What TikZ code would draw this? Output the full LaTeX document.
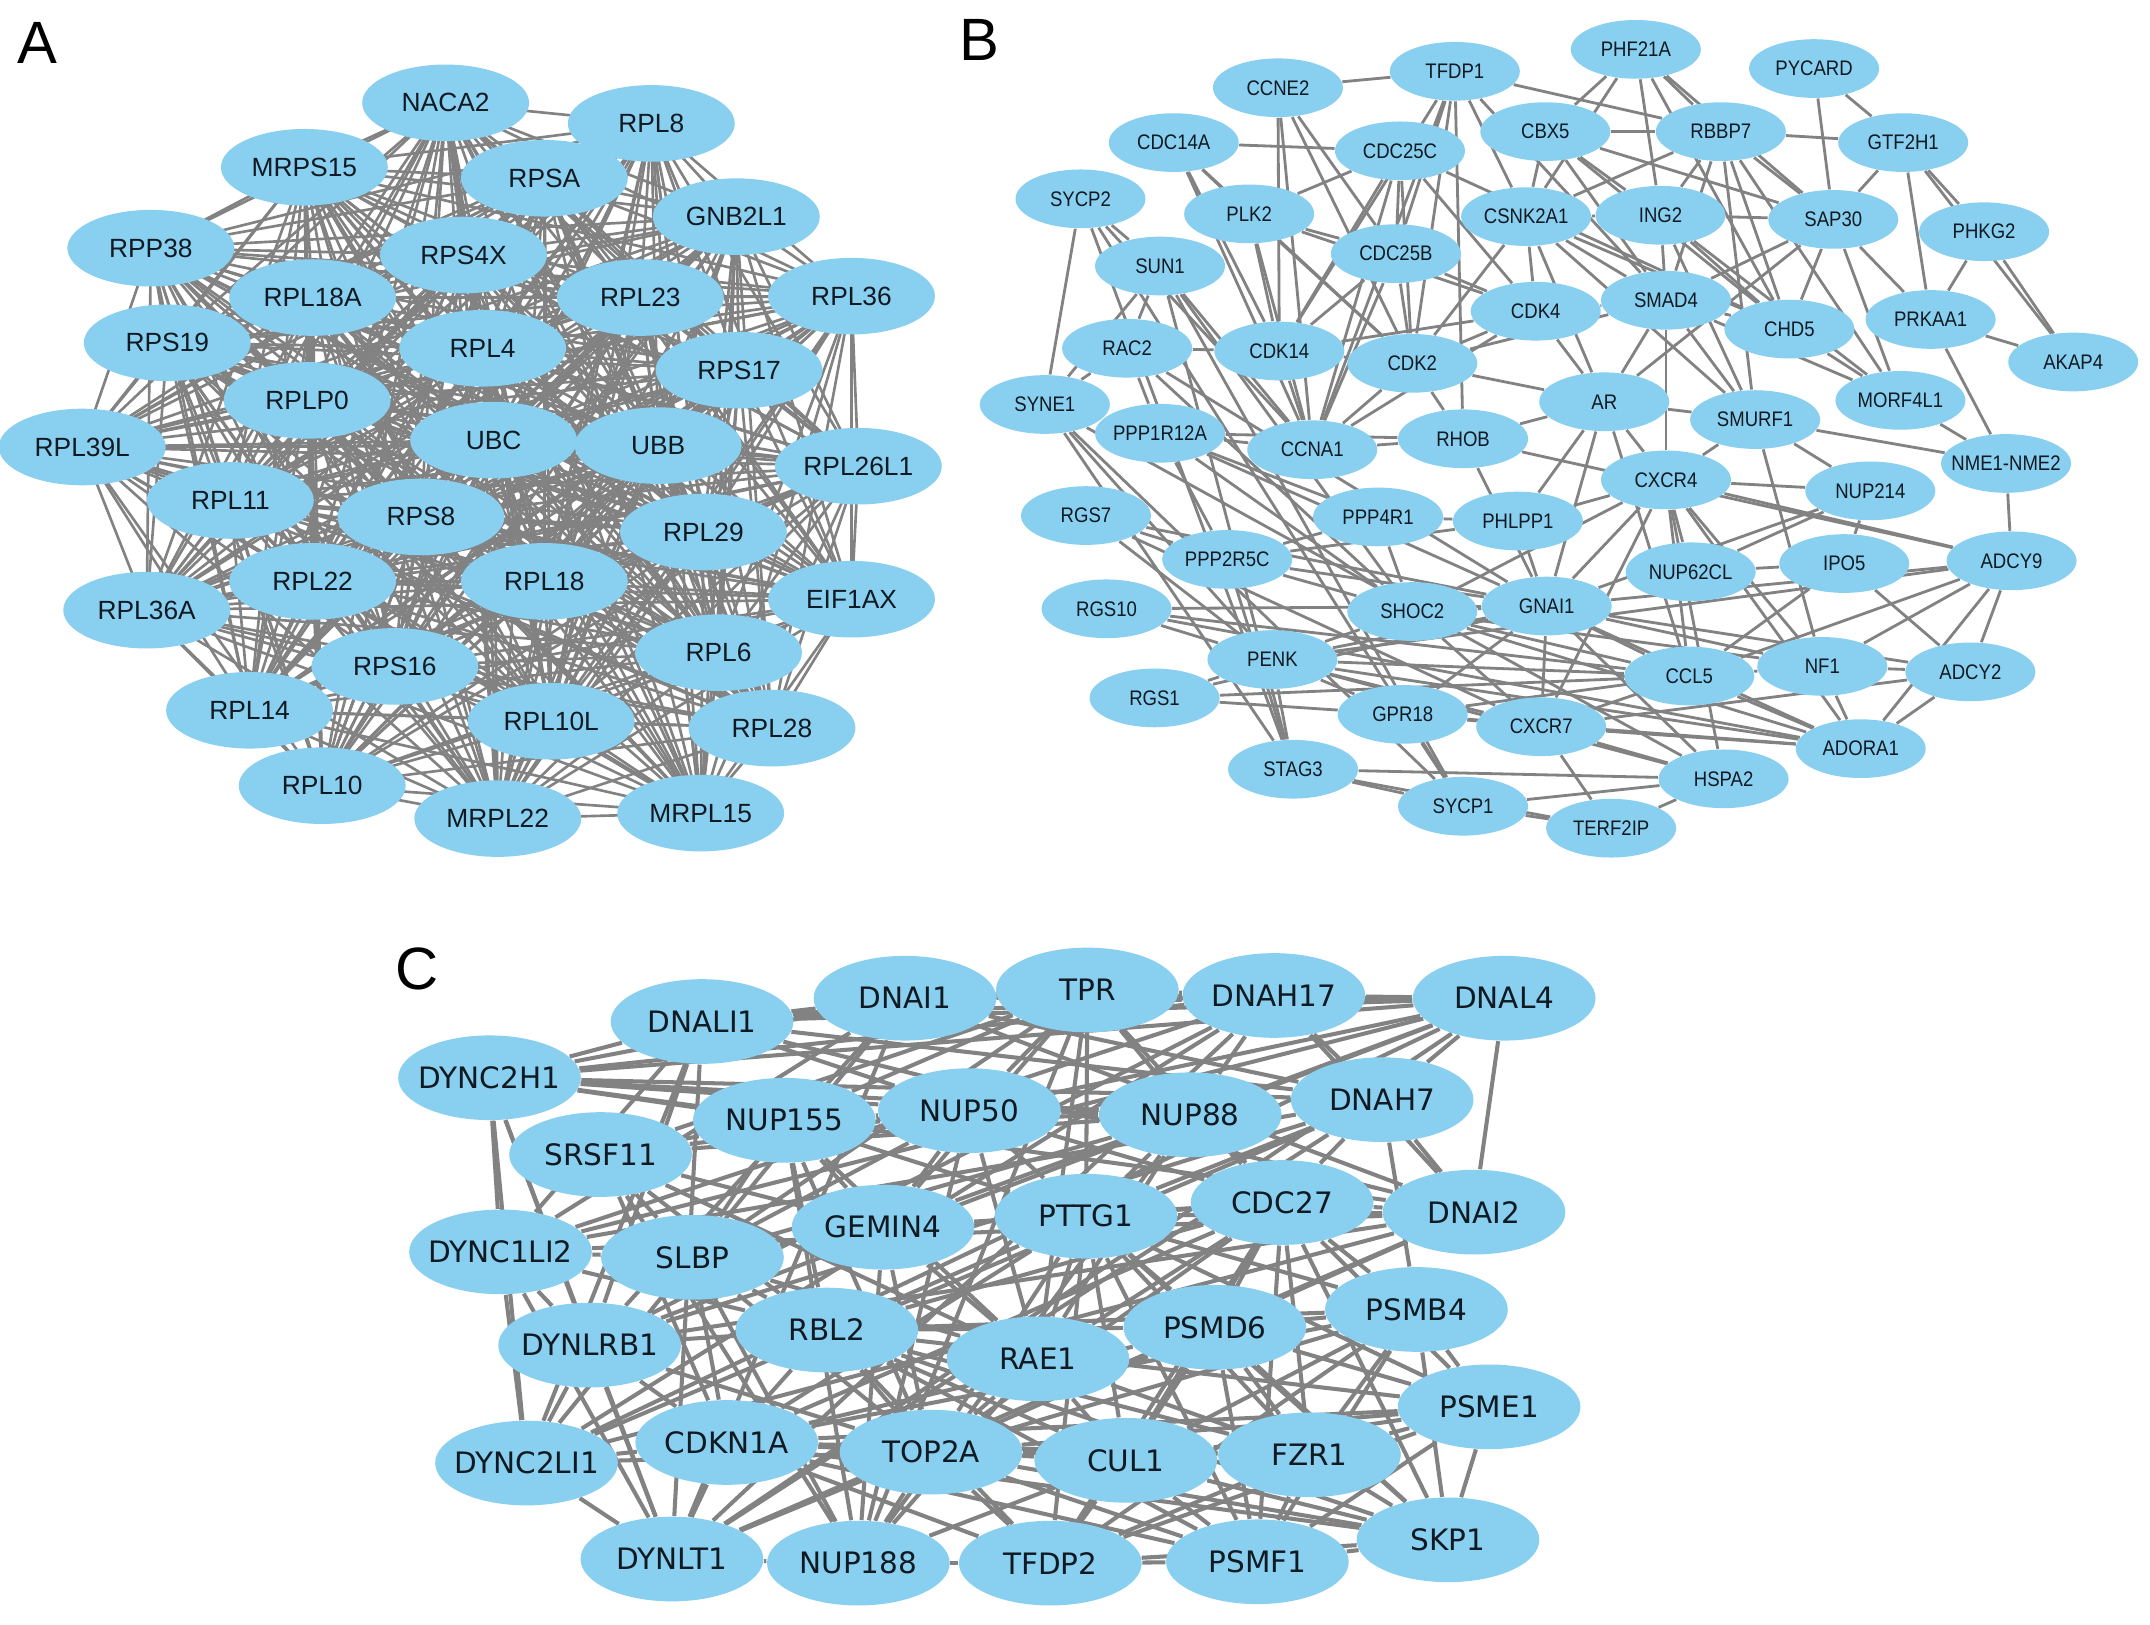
\documentclass[tikz,border=0pt]{standalone}
\usepackage{fontspec}
\setmainfont{Liberation Sans}
\newfontfamily\bfontB[FakeStretch=0.88]{Liberation Sans}
\newfontfamily\cfont{DejaVu Sans}
\usetikzlibrary{shapes.geometric}
\definecolor{nodeblue}{RGB}{137,207,240}
\definecolor{edgegray}{RGB}{130,130,130}
\definecolor{txt}{RGB}{16,26,34}
\pgfdeclarelayer{bg}
\pgfdeclarelayer{paper}
\pgfsetlayers{paper,bg,main}
\tikzset{
  nA/.style={ellipse, fill=nodeblue, minimum width=47.5pt, minimum height=21.8pt, inner sep=0pt,
    label={[font=\fontsize{7.5}{8}\selectfont, text=txt, inner sep=0pt]center:#1}},
  nB/.style={ellipse, fill=nodeblue, minimum width=37pt, minimum height=16.7pt, inner sep=0pt,
    label={[font=\bfontB\fontsize{6}{7}\selectfont, text=txt, inner sep=0pt]center:#1}},
  nC/.style={ellipse, fill=nodeblue, minimum width=52pt, minimum height=24.1pt, inner sep=0pt,
    label={[font=\cfont\fontsize{8.4}{9}\selectfont, text=txt, inner sep=0pt]center:#1}},
  eA/.style={draw=edgegray, line width=0.75pt},
  eB/.style={draw=edgegray, line width=0.8pt},
  eC/.style={draw=edgegray, line width=1.15pt},
  panel/.style={font=\fontsize{17}{18}\selectfont, inner sep=0pt}
}
\begin{document}
\begin{tikzpicture}[x=0.013712cm, y=-0.013712cm]
\begin{pgfonlayer}{paper}
\fill[white] (0,0) rectangle (1568,1185);
\end{pgfonlayer}
\useasboundingbox (0,0) rectangle (1568,1185);

% panel labels
\node[panel] (labA) at (27,31) {A};
\node[panel] (labB) at (714,29) {B};
\node[panel] (labC) at (304,707) {C};

% ---------------- Panel A ----------------
\foreach \n/\x/\y in {NACA2/325/75, RPL8/475/90, MRPS15/222/122, RPSA/397/130, GNB2L1/537/158,
  RPP38/110/181, RPS4X/338/186, RPL18A/228/217, RPL23/467/217, RPL36/621/216, RPS19/122/250,
  RPL4/352/254, RPS17/539/270, RPLP0/224/292, RPL39L/60/326, UBC/360/321, UBB/480/325,
  RPL26L1/626/340, RPL11/168/365, RPS8/307/377, RPL29/513/388, RPL36A/107/445, RPL22/228/424,
  RPL18/397/424, EIF1AX/621/437, RPS16/288/486, RPL6/524/476, RPL14/182/518, RPL10L/402/526,
  RPL28/563/531, RPL10/235/573, MRPL22/363/597, MRPL15/511/593}
  {\node[nA=\n] (a\n) at (\x,\y) {};}

\def\Alist{NACA2,RPL8,MRPS15,RPSA,GNB2L1,RPP38,RPS4X,RPL18A,RPL23,RPL36,RPS19,RPL4,RPS17,RPLP0,RPL39L,UBC,UBB,RPL26L1,RPL11,RPS8,RPL29,RPL36A,RPL22,RPL18,EIF1AX,RPS16,RPL6,RPL14,RPL10L,RPL28,RPL10,MRPL22,MRPL15}
\begin{pgfonlayer}{bg}
\foreach \u [count=\i] in \Alist {
  \foreach \v [count=\j] in \Alist {
    \ifnum\j>\i \draw[eA] (a\u.center) -- (a\v.center);\fi
  }
}
\end{pgfonlayer}

% ---------------- Panel B ----------------
\foreach \n/\x/\y in {TFDP1/1061/52, PHF21A/1193/36, PYCARD/1323/50, CCNE2/932/64, CBX5/1127/96,
  RBBP7/1255/96, GTF2H1/1388/104, CDC14A/856/104, CDC25C/1021/110, SYCP2/788/145, PLK2/911/156,
  CSNK2A1/1113/158, ING2/1211/157, SAP30/1337/160, PHKG2/1447/169, SUN1/846/194, CDC25B/1018/185,
  CDK4/1120/227, SMAD4/1215/219, CHD5/1305/240, PRKAA1/1408/233, AKAP4/1512/264, RAC2/822/254,
  CDK14/933/256, CDK2/1030/265, SYNE1/762/295, AR/1170/293, SMURF1/1280/306, MORF4L1/1386/292,
  PPP1R12A/846/316, CCNA1/957/328, RHOB/1067/320, NME1-NME2/1463/338, CXCR4/1215/350,
  NUP214/1364/358, RGS7/792/376, PPP4R1/1005/377, PHLPP1/1107/380, PPP2R5C/895/408,
  NUP62CL/1233/417, IPO5/1345/411, ADCY9/1467/409, RGS10/807/444, SHOC2/1030/446, GNAI1/1128/442,
  PENK/928/481, CCL5/1232/493, NF1/1329/486, ADCY2/1437/490, RGS1/842/509, GPR18/1023/521,
  CXCR7/1124/530, ADORA1/1357/546, STAG3/943/561, HSPA2/1257/568, SYCP1/1067/588, TERF2IP/1175/604}
  {\node[nB=\n] (b\n) at (\x,\y) {};}

\begin{pgfonlayer}{bg}
\foreach \u/\v in {CCNE2/TFDP1, CDC14A/CDC25C, CCNE2/CDK14, CCNE2/CDK2, CCNE2/CDC25B, CCNE2/CCNA1,
  TFDP1/CDK14, TFDP1/CCNA1, TFDP1/CDK2, TFDP1/CSNK2A1, TFDP1/RBBP7, TFDP1/SMAD4, TFDP1/CDC25B, TFDP1/RHOB,
  SYCP2/SYNE1, SYCP2/SUN1, SYCP2/STAG3, SYCP2/SYCP1, SYCP2/CCNA1,
  SUN1/RAC2, SUN1/CCNA1, SUN1/SHOC2, SUN1/SYCP1, SUN1/STAG3, SUN1/SYNE1,
  RAC2/SYNE1, RAC2/CDK14, RAC2/PPP1R12A, RAC2/SHOC2, RAC2/GNAI1,
  PLK2/CDK14, PLK2/CDK2, PLK2/CCNA1, PLK2/CDC25C, PLK2/CDC25B, PLK2/CDK4,
  CDC14A/CDK14, CDC14A/PLK2, CDC14A/CDK2, CDC14A/CCNA1,
  CDC25C/CDK2, CDC25C/CDK14, CDC25C/CCNA1, CDC25C/CDC25B, CDC25C/CHD5, CDC25C/CDK4,
  CDC25B/CDK2, CDC25B/CDK14, CDC25B/CCNA1, CDC25B/CDK4,
  CDK14/CDK2, CDK14/CDK4, CDK14/CCNA1,
  CDK2/CDK4, CDK2/CCNA1, CDK2/AR, CDK2/RHOB, CDK2/SMAD4, CDK2/CSNK2A1,
  CDK4/CSNK2A1, CDK4/SMAD4, CDK4/AR, CDK4/CCNA1,
  CSNK2A1/AR, CSNK2A1/SMAD4, CSNK2A1/CBX5, CSNK2A1/RBBP7, CSNK2A1/CHD5, CSNK2A1/PHF21A, CSNK2A1/SMURF1,
  CBX5/RBBP7, CBX5/PHF21A, CBX5/ING2, CBX5/SAP30, CBX5/CHD5, CBX5/SMAD4,
  PHF21A/RBBP7, PHF21A/ING2, PHF21A/SAP30, PHF21A/CHD5,
  RBBP7/GTF2H1, RBBP7/ING2, RBBP7/SAP30, RBBP7/CHD5, RBBP7/MORF4L1, RBBP7/SMAD4, RBBP7/SMURF1,
  PYCARD/GTF2H1, PYCARD/SAP30,
  GTF2H1/PHKG2, GTF2H1/PRKAA1, GTF2H1/AKAP4, GTF2H1/SAP30,
  PHKG2/PRKAA1, PHKG2/AKAP4,
  PRKAA1/AKAP4, PRKAA1/NME1-NME2, PRKAA1/SAP30,
  ING2/SAP30, ING2/SMAD4, ING2/CHD5, ING2/MORF4L1, ING2/SMURF1, ING2/CSNK2A1,
  SAP30/CHD5, SAP30/MORF4L1, SAP30/SMAD4, SAP30/AR,
  SMAD4/AR, SMAD4/SMURF1, SMAD4/CHD5, SMAD4/CXCR4, SMAD4/MORF4L1,
  CHD5/MORF4L1,
  AR/SMURF1, AR/CXCR4, AR/RHOB, AR/PHLPP1, AR/GNAI1, AR/CCL5,
  SMURF1/NME1-NME2, SMURF1/NUP214, SMURF1/NF1, SMURF1/CXCR4,
  MORF4L1/NME1-NME2, NME1-NME2/ADCY9,
  CXCR4/NUP62CL, CXCR4/GNAI1, CXCR4/CCL5, CXCR4/ADCY9, CXCR4/NF1, CXCR4/ADORA1, CXCR4/CXCR7,
  CXCR4/PHLPP1, CXCR4/NUP214, CXCR4/SHOC2, CXCR4/HSPA2,
  NUP214/IPO5, NUP214/NUP62CL, NUP214/GNAI1,
  IPO5/NUP62CL, IPO5/ADCY2, IPO5/CCL5,
  ADCY9/ADCY2, ADCY9/ADORA1, ADCY9/GNAI1, ADCY9/CCL5, ADCY9/NF1, ADCY9/PENK,
  ADCY2/NF1, ADCY2/ADORA1, ADCY2/GNAI1, ADCY2/CXCR7,
  NF1/ADORA1, NF1/CCL5, NF1/GNAI1, NF1/SHOC2,
  ADORA1/GNAI1, ADORA1/CCL5, ADORA1/PENK, ADORA1/CXCR7, ADORA1/SHOC2, ADORA1/RGS10, ADORA1/GPR18,
  CCL5/GNAI1, CCL5/CXCR7, CCL5/PENK, CCL5/SHOC2, CCL5/GPR18, CCL5/RGS1,
  HSPA2/SYCP1, HSPA2/TERF2IP, HSPA2/CXCR7, HSPA2/GNAI1, HSPA2/STAG3, HSPA2/PENK,
  GPR18/CXCR7, GPR18/GNAI1, GPR18/SYCP1, GPR18/PENK, GPR18/RGS1,
  CXCR7/GNAI1, CXCR7/TERF2IP, CXCR7/PENK, CXCR7/SHOC2,
  SYCP1/STAG3, SYCP1/TERF2IP,
  STAG3/PENK, STAG3/TERF2IP, STAG3/PPP2R5C,
  RGS1/PENK, RGS1/GNAI1,
  RGS10/GNAI1, RGS10/PENK, RGS10/CCL5,
  RGS7/GNAI1, RGS7/PENK, RGS7/PPP2R5C, RGS7/CXCR7,
  PENK/GNAI1, PENK/SHOC2,
  SHOC2/GNAI1, SHOC2/PPP1R12A, SHOC2/PPP2R5C,
  PPP2R5C/PPP4R1, PPP2R5C/PPP1R12A, PPP2R5C/PHLPP1, PPP2R5C/GNAI1,
  PPP4R1/PHLPP1, PPP4R1/PPP1R12A, PPP4R1/SHOC2,
  PHLPP1/GNAI1,
  RHOB/GNAI1, RHOB/CCNA1, RHOB/ADCY9,
  SYNE1/SYCP1, SYNE1/STAG3, SYNE1/PENK, SYNE1/HSPA2,
  PPP1R12A/CCNA1, PPP1R12A/GNAI1, PPP1R12A/RHOB}
  {\draw[eB] (b\u) -- (b\v);}
\end{pgfonlayer}

% ---------------- Panel C ----------------
\foreach \n/\x/\y in {DNAI1/660/728, TPR/793/722, DNAH17/929/726, DNAL4/1097/728, DNALI1/512/745,
  DYNC2H1/357/786, NUP155/572/817, NUP50/707/810, NUP88/868/813, DNAH7/1008/802, SRSF11/438/842,
  CDC27/935/877, PTTG1/792/887, GEMIN4/644/895, DNAI2/1075/884, DYNC1LI2/365/913, SLBP/505/917,
  PSMB4/1033/955, RBL2/603/970, PSMD6/886/968, RAE1/757/991, DYNLRB1/430/981, PSME1/1086/1026,
  CDKN1A/530/1052, TOP2A/679/1059, CUL1/821/1065, FZR1/955/1061, DYNC2LI1/384/1067, SKP1/1056/1123,
  DYNLT1/490/1137, NUP188/626/1140, TFDP2/766/1140, PSMF1/917/1139}
  {\node[nC=\n] (c\n) at (\x,\y) {};}

\def\Dyn{DYNC2H1,DNALI1,DNAI1,DNAH17,DNAL4,DNAH7,DNAI2,DYNC1LI2,DYNLRB1,DYNC2LI1,DYNLT1}
\def\Nup{NUP155,NUP50,NUP88,NUP188,TPR,RAE1}
\def\Cyc{CDC27,PTTG1,CUL1,FZR1,SKP1,CDKN1A,TOP2A,RBL2,TFDP2,PSMD6,PSMB4,PSME1,PSMF1}
\begin{pgfonlayer}{bg}
\foreach \u [count=\i] in \Dyn {\foreach \v [count=\j] in \Dyn {\ifnum\j>\i \draw[eC] (c\u) -- (c\v);\fi}}
\foreach \u [count=\i] in \Nup {\foreach \v [count=\j] in \Nup {\ifnum\j>\i \draw[eC] (c\u) -- (c\v);\fi}}
\foreach \u [count=\i] in \Cyc {\foreach \v [count=\j] in \Cyc {\ifnum\j>\i \draw[eC] (c\u) -- (c\v);\fi}}
\foreach \u/\v in {SRSF11/NUP155, SRSF11/NUP50, SRSF11/NUP88, SRSF11/TPR, SRSF11/RAE1, SRSF11/NUP188,
  SLBP/NUP155, SLBP/NUP50, SLBP/NUP88, SLBP/TPR, SLBP/RAE1, SLBP/NUP188,
  GEMIN4/NUP155, GEMIN4/NUP50, GEMIN4/NUP88, GEMIN4/TPR, GEMIN4/RAE1, GEMIN4/NUP188,
  SRSF11/SLBP, SRSF11/GEMIN4, SLBP/GEMIN4,
  DNAI1/TPR, DNAH17/TPR, DNAH17/NUP88, DNAL4/NUP88, DNAL4/NUP50, DYNC2H1/NUP155, DYNC2H1/NUP50,
  DYNC2H1/NUP88, DNALI1/NUP50, DNALI1/TPR, DYNC1LI2/SLBP, DYNC1LI2/RBL2, DYNLRB1/RBL2,
  DYNLRB1/CDKN1A, DYNLRB1/TOP2A, DYNC2LI1/CDKN1A, DYNC2LI1/TOP2A, DYNLT1/NUP188, DYNLT1/CDKN1A,
  DYNLT1/TOP2A, DNAH7/CDC27, DNAH7/PTTG1, DNAH7/PSMB4, DNAI2/CDC27, DNAI2/PSMD6, DNAI2/PTTG1,
  TPR/PTTG1, TPR/CDC27, NUP50/PTTG1, NUP50/CDC27, NUP88/CDC27, NUP88/PTTG1, RAE1/CDC27,
  RAE1/PTTG1, RAE1/TOP2A, RAE1/CUL1, RAE1/FZR1, NUP188/TOP2A, NUP188/TFDP2, NUP188/CUL1,
  GEMIN4/PTTG1, GEMIN4/CDC27, GEMIN4/TOP2A, SLBP/CDKN1A, SLBP/RBL2, SLBP/TOP2A, SRSF11/CDKN1A,
  SRSF11/RBL2, NUP155/PTTG1, NUP155/TOP2A, NUP155/RBL2}
  {\draw[eC] (c\u) -- (c\v);}
\end{pgfonlayer}
\end{tikzpicture}
\end{document}
